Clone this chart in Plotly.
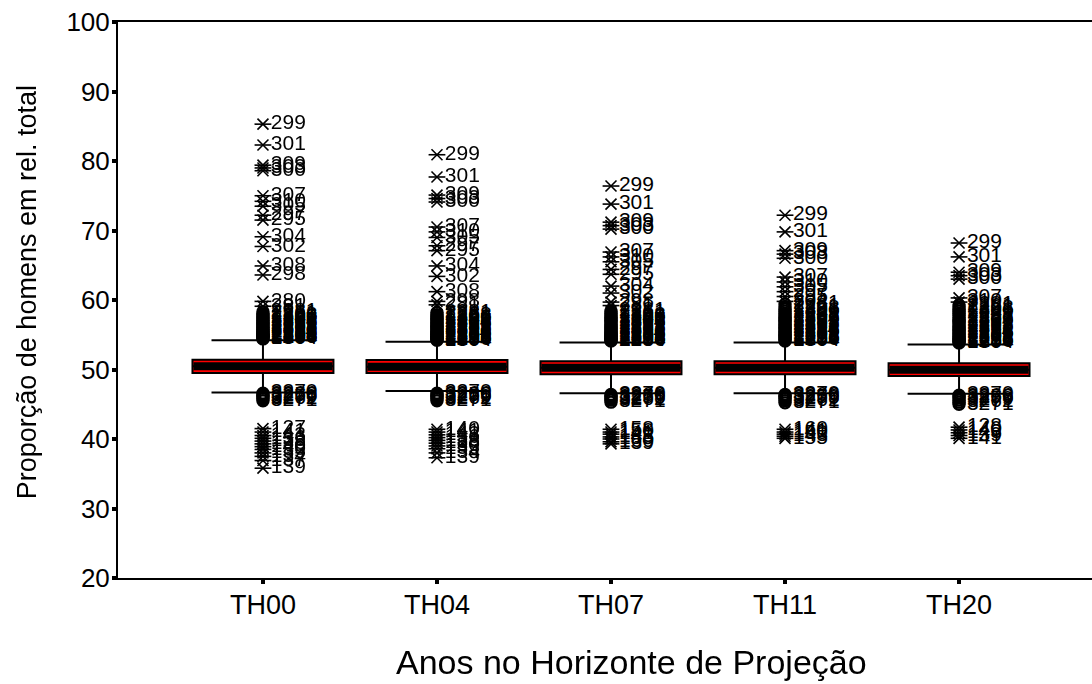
import plotly.graph_objects as go

# Box statistics per projection horizon (percentage of men in the total)
categories = ["TH00", "TH04", "TH07", "TH11", "TH20"]
lower_fence = [46.7, 46.9, 46.6, 46.6, 46.5]
q1 = [49.5, 49.5, 49.3, 49.3, 49.05]
median = [50.45, 50.4, 50.25, 50.25, 49.95]
q3 = [51.4, 51.35, 51.2, 51.2, 50.9]
upper_fence = [54.2, 54.0, 53.9, 53.9, 53.6]

# Extreme values (asterisks) and outliers (circles), labelled with case numbers
th00_ext_val = [85.3, 82.3, 79.4, 79.0, 78.6, 75.0, 74.2, 73.5, 72.2, 71.5, 69.1, 67.7, 64.9, 63.6, 59.8, 59.1,
                41.5, 41.0, 40.5, 40.1, 39.7, 39.3, 38.9, 38.5, 38.0, 37.5, 36.9, 35.8]
th00_ext_lab = ["299", "301", "309", "303", "300", "307", "310", "305", "297", "295", "304", "302", "308", "298", "280", "281",
                "127", "141", "143", "136", "133", "138", "140", "130", "135", "134", "137", "139"]
th00_out_val = [58.3, 58.0, 57.8, 57.6, 57.4, 57.2, 57.0, 56.8, 56.6, 56.5, 56.3, 56.1, 56.0, 55.8, 55.7, 55.5,
                55.4, 55.2, 55.1, 55.0, 54.9, 54.8, 54.7, 54.6, 54.5, 54.4,
                46.6, 46.4, 46.2, 46.0, 45.8, 45.5]
th00_out_lab = ["2281", "2261", "1288", "1306", "2249", "1291", "2287", "1303", "2269", "1289", "2283", "1293", "2273",
                "1311", "2291", "1298", "2266", "1285", "2259", "1301", "2278", "1313", "2255", "1296", "2286", "1304",
                "3270", "3266", "3258", "3279", "3262", "3271"]

th04_ext_val = [80.9, 77.7, 75.1, 74.6, 74.1, 70.5, 69.8, 69.0, 67.8, 67.1, 64.9, 63.4, 61.2, 59.8, 59.3,
                41.4, 41.0, 40.6, 40.2, 39.8, 39.4, 39.0, 38.6, 38.0, 37.3]
th04_ext_lab = ["299", "301", "309", "303", "300", "307", "310", "305", "297", "295", "304", "302", "308", "298", "281",
                "140", "141", "143", "136", "133", "138", "130", "135", "134", "139"]
th04_out_val = [58.2, 57.9, 57.7, 57.5, 57.3, 57.1, 56.9, 56.7, 56.5, 56.3, 56.2, 56.0, 55.9, 55.7, 55.5, 55.4,
                55.2, 55.1, 55.0, 54.8, 54.7, 54.6, 54.5, 54.4, 54.3, 54.2,
                46.6, 46.4, 46.2, 46.0, 45.8, 45.5]
th04_out_lab = ["2281", "2261", "1288", "1306", "2249", "1291", "2287", "1303", "2269", "1289", "2283", "1293", "2273",
                "1311", "2291", "1298", "2266", "1285", "2259", "1301", "2278", "1313", "2255", "1296", "2286", "1304",
                "3270", "3266", "3258", "3279", "3262", "3271"]

th07_ext_val = [76.4, 73.8, 71.2, 70.7, 70.2, 66.9, 66.2, 65.5, 64.4, 63.7, 62.0, 61.0, 59.7, 59.2,
                41.4, 41.0, 40.7, 40.3, 40.0, 39.6, 39.3]
th07_ext_lab = ["299", "301", "309", "303", "300", "307", "310", "305", "297", "295", "304", "302", "298", "281",
                "158", "150", "141", "143", "155", "160", "139"]
th07_out_val = [58.4, 58.1, 57.8, 57.6, 57.4, 57.2, 57.0, 56.8, 56.6, 56.4, 56.2, 56.0, 55.9, 55.7, 55.5, 55.3,
                55.2, 55.0, 54.9, 54.8, 54.6, 54.5, 54.4, 54.3, 54.2, 54.1,
                46.4, 46.2, 46.0, 45.8, 45.6, 45.3]
th07_out_lab = ["2281", "2261", "1288", "1306", "2249", "1291", "2287", "1303", "2269", "1289", "2283", "1293", "2273",
                "1311", "2291", "1298", "2266", "1285", "2259", "1301", "2278", "1313", "2255", "1296", "2286", "1304",
                "3270", "3266", "3258", "3279", "3262", "3271"]

th11_ext_val = [72.2, 69.8, 67.1, 66.6, 66.0, 63.3, 62.6, 61.9, 61.2, 60.5, 59.8,
                41.4, 41.0, 40.7, 40.4, 40.1]
th11_ext_lab = ["299", "301", "309", "303", "300", "307", "310", "305", "297", "295", "304",
                "160", "141", "150", "143", "155"]
th11_out_val = [59.4, 59.0, 58.7, 58.4, 58.1, 57.8, 57.6, 57.4, 57.2, 57.0, 56.8, 56.6, 56.4, 56.2, 56.0, 55.8,
                55.6, 55.4, 55.2, 55.0, 54.9, 54.7, 54.6, 54.4, 54.3, 54.1,
                46.4, 46.2, 46.0, 45.8, 45.5, 45.2]
th11_out_lab = ["2281", "2261", "1288", "1306", "2249", "1291", "2287", "1303", "2269", "1289", "2283", "1293", "2273",
                "1311", "2291", "1298", "2266", "1285", "2259", "1301", "2278", "1313", "2255", "1296", "2286", "1304",
                "3270", "3266", "3258", "3279", "3262", "3271"]

th20_ext_val = [68.2, 66.2, 64.0, 63.5, 63.0, 60.3, 59.7,
                41.7, 41.3, 40.9, 40.5, 40.1]
th20_ext_lab = ["299", "301", "309", "303", "300", "307", "310",
                "128", "140", "143", "139", "141"]
th20_out_val = [59.3, 59.0, 58.7, 58.4, 58.1, 57.8, 57.5, 57.2, 57.0, 56.8, 56.6, 56.3, 56.1, 55.9, 55.7, 55.5,
                55.3, 55.1, 54.9, 54.7, 54.5, 54.4, 54.2, 54.1, 54.0, 53.8,
                46.3, 46.1, 45.9, 45.6, 45.3, 45.0]
th20_out_lab = ["2281", "2261", "1288", "1306", "2249", "1291", "2287", "1303", "2269", "1289", "2283", "1293", "2273",
                "1311", "2291", "1298", "2266", "1285", "2259", "1301", "2278", "1313", "2255", "1296", "2286", "1304",
                "3270", "3266", "3258", "3279", "3262", "3271"]

extremes = [(th00_ext_val, th00_ext_lab), (th04_ext_val, th04_ext_lab), (th07_ext_val, th07_ext_lab),
            (th11_ext_val, th11_ext_lab), (th20_ext_val, th20_ext_lab)]
outliers = [(th00_out_val, th00_out_lab), (th04_out_val, th04_out_lab), (th07_out_val, th07_out_lab),
            (th11_out_val, th11_out_lab), (th20_out_val, th20_out_lab)]

FONT = "Liberation Sans, Arial, sans-serif"
BOX_WIDTH = 0.81
positions = list(range(len(categories)))

fig = go.Figure()

# Boxes: red fill with black outline, whiskers and caps
fig.add_trace(go.Box(
    x=positions, q1=q1, median=median, q3=q3,
    lowerfence=lower_fence, upperfence=upper_fence,
    width=BOX_WIDTH, whiskerwidth=0.73, boxpoints=False,
    fillcolor="#ff0000", line=dict(color="black", width=2),
    hoverinfo="skip", showlegend=False,
))

# Heavy median bar across each box
for i, m in enumerate(median):
    fig.add_trace(go.Scatter(
        x=[i - BOX_WIDTH / 2 + 0.006, i + BOX_WIDTH / 2 - 0.006], y=[m, m],
        mode="lines", line=dict(color="black", width=8),
        hoverinfo="skip", showlegend=False,
    ))

label_font = dict(family=FONT, size=21, color="black")

for i, (vals, labs) in enumerate(outliers):
    fig.add_trace(go.Scatter(
        x=[i] * len(vals), y=vals, text=labs,
        mode="markers+text", textposition="middle right", textfont=label_font,
        marker=dict(symbol="circle-open", size=11, color="black", line=dict(width=2.4, color="black")),
        opacity=0.995, hoverinfo="skip", showlegend=False, cliponaxis=False,
    ))

for i, (vals, labs) in enumerate(extremes):
    # asterisk drawn as a horizontal stroke plus a thin cross
    fig.add_trace(go.Scatter(
        x=[i] * len(vals), y=vals,
        mode="markers",
        marker=dict(symbol="line-ew-open", size=12, color="black", line=dict(width=1.6, color="black")),
        hoverinfo="skip", showlegend=False,
    ))
    fig.add_trace(go.Scatter(
        x=[i] * len(vals), y=vals, text=labs,
        mode="markers+text", textposition="middle right", textfont=label_font,
        marker=dict(symbol="x-thin-open", size=11, color="black", line=dict(width=1.6, color="black")),
        opacity=0.995, hoverinfo="skip", showlegend=False, cliponaxis=False,
    ))

fig.update_layout(
    width=1092, height=684,
    margin=dict(l=118, r=0, t=22, b=106),
    paper_bgcolor="white", plot_bgcolor="white",
    font=dict(family=FONT, color="black"),
    xaxis=dict(
        range=[-0.833, 4.764], tickvals=positions, ticktext=categories,
        showline=True, linecolor="black", linewidth=2, mirror=True,
        ticks="outside", ticklen=4, tickwidth=4, tickcolor="black",
        tickfont=dict(family=FONT, size=27, color="black"),
        showgrid=False, zeroline=False, ticklabelstandoff=-2,
    ),
    yaxis=dict(
        range=[20, 100], tickvals=[20, 30, 40, 50, 60, 70, 80, 90, 100],
        showline=True, linecolor="black", linewidth=2,
        ticks="outside", ticklen=4, tickwidth=4, tickcolor="black",
        tickfont=dict(family=FONT, size=26, color="black"),
        showgrid=False, zeroline=False, ticklabelstandoff=-3,
    ),
    annotations=[
        dict(text="Proporção de homens em rel. total", xref="paper", yref="paper",
             x=-0.0934, y=0.514, xanchor="center", yanchor="middle", textangle=-90,
             showarrow=False, font=dict(family=FONT, size=27, color="black")),
        dict(text="Anos no Horizonte de Projeção", xref="paper", yref="paper",
             x=0.527, y=-0.151, xanchor="center", yanchor="middle",
             showarrow=False, font=dict(family=FONT, size=34, color="black")),
    ],
)

fig.write_html("out.html")
